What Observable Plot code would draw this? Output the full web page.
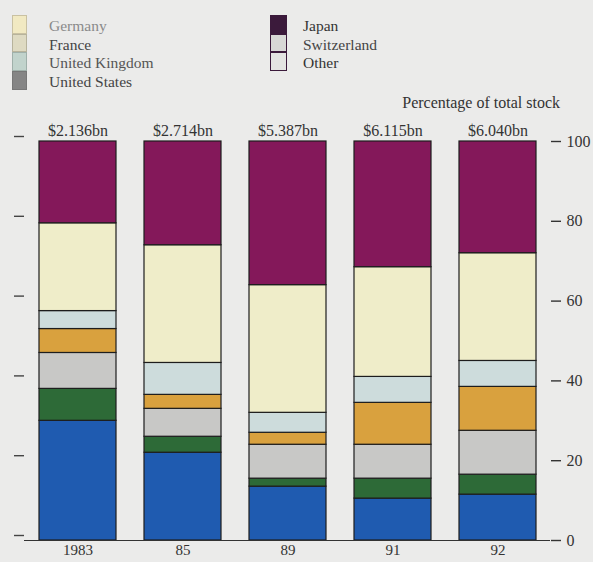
<!DOCTYPE html>
<html>
<head>
<meta charset="utf-8">
<script src="https://cdn.jsdelivr.net/npm/d3@7"></script>
<script src="https://cdn.jsdelivr.net/npm/@observablehq/plot@0.6"></script>
<style>
  html, body { margin: 0; padding: 0; background: #ebebea; }
  #chart { position: relative; width: 593px; height: 562px; overflow: hidden;
           font-family: "Liberation Serif", Tinos, "Times New Roman", Times, "DejaVu Serif", serif; }
  #chart svg { position: absolute; left: 0; top: 0; }
  .legend { position: absolute; font-size: 15.5px; line-height: 19px; }
  .legend .row { position: relative; height: 18.7px; }
  .legend .sw { position: absolute; box-sizing: border-box; }
  .legend .lab { position: absolute; white-space: nowrap; top: 1px; }
  #ylabel { position: absolute; right: 33px; top: 94px; font-size: 16px; color: #333; }
</style>
</head>
<body>
<div id="chart">
  <div class="legend" id="legL" style="left:12px; top:15px;"></div>
  <div class="legend" id="legR" style="left:270px; top:15px;"></div>
  <div id="ylabel">Percentage of total stock</div>
</div>
<script>
// Years and their axis labels
const years = ["1983", "1985", "1989", "1991", "1992"];
const yearLabels = ["1983", "85", "89", "91", "92"];
// Total stock for each year
const totals = ["$2.136bn", "$2.714bn", "$5.387bn", "$6.115bn", "$6.040bn"];

// Share of total stock (%), one array per country, by year
const other       = [30, 22, 13.5, 10.5, 11.5];
const switzerland = [8, 4, 2, 5, 5];
const unitedStates = [9, 7, 8.5, 8.5, 11];
const france      = [6, 3.5, 3, 10.5, 11];
const unitedKingdom = [4.5, 8, 5, 6.5, 6.5];
const germany     = [22, 29.5, 32, 27.5, 27];
const japan       = [20.5, 26, 36, 31.5, 28];

// Stack order, bottom to top
const countries = ["Other", "Switzerland", "United States", "France", "United Kingdom", "Germany", "Japan"];
const series = [other, switzerland, unitedStates, france, unitedKingdom, germany, japan];
const colors = ["#1f5bb0", "#2d6a37", "#c8c8c6", "#d9a13e", "#cddcdc", "#efedc9", "#84185a"];

const yTicks = [0, 20, 40, 60, 80, 100];

const rows = [];
countries.forEach((c, i) => years.forEach((y, j) => rows.push({year: y, country: c, share: series[i][j]})));

const font = "Liberation Serif, Tinos, Times New Roman, Times, DejaVu Serif, serif";

const chart = Plot.plot({
  width: 593,
  height: 562,
  marginTop: 141,
  marginBottom: 22,
  marginLeft: 24,
  marginRight: 43,
  style: {background: "transparent", fontFamily: font, fontSize: "16px", color: "#333"},
  x: {type: "band", domain: years, paddingInner: 0.27, paddingOuter: 0.12, axis: null},
  y: {domain: [0, 100], axis: null},
  color: {type: "ordinal", domain: countries, range: colors},
  marks: [
    Plot.barY(rows, {x: "year", y: "share", fill: "country", order: countries,
                     stroke: "#1d1d1d", strokeWidth: 1.2}),
    Plot.ruleY([0], {stroke: "#333", strokeWidth: 1}),
    Plot.axisY({anchor: "left", ticks: yTicks, tickSize: 10, tickFormat: () => "", label: null,
                stroke: "#444", strokeWidth: 1.4, dy: -5}),
    Plot.axisY({anchor: "right", ticks: yTicks, tickSize: 10, tickPadding: 6, stroke: "#333", strokeWidth: 1.4,
                fontSize: 16, fill: "#333", label: null}),
    Plot.axisX({ticks: years, tickSize: 0, tickPadding: 4, fontSize: 15, fill: "#333",
                tickFormat: (d) => yearLabels[years.indexOf(d)], label: null}),
    Plot.text(years, {x: (d) => d, y: () => 100, text: (d, i) => totals[i], dy: -6,
                      lineAnchor: "bottom", fontSize: 16, fill: "#333"})
  ]
});
document.getElementById("chart").prepend(chart);

// Legend entries
const legendLeft = [
  {name: "Germany", fill: "#f1e9c2", border: "#c9c1a2", text: "#8a8a8a"},
  {name: "France", fill: "#dedac2", border: "#b7b39c", text: "#444"},
  {name: "United Kingdom", fill: "#c1d3cc", border: "#9fb0aa", text: "#555"},
  {name: "United States", fill: "#858585", border: "#777", text: "#444"}
];
const legendRight = [
  {name: "Japan", fill: "#3b1a3b", border: "#3b1a3b", text: "#333"},
  {name: "Switzerland", fill: "#d8d8d6", border: "#3b1a3b", text: "#444"},
  {name: "Other", fill: "#e4e4e2", border: "#3b1a3b", text: "#333"}
];
function drawLegend(id, items, labelOffset, swWidth) {
  const el = document.getElementById(id);
  items.forEach((it) => {
    const row = document.createElement("div");
    row.className = "row";
    const sw = document.createElement("div");
    sw.className = "sw";
    sw.style.background = it.fill;
    sw.style.border = "1.5px solid " + it.border;
    sw.style.width = swWidth + "px";
    sw.style.height = "18.7px";
    const lab = document.createElement("div");
    lab.className = "lab";
    lab.style.left = labelOffset + "px";
    lab.style.color = it.text;
    lab.textContent = it.name;
    row.append(sw, lab);
    el.append(row);
  });
}
drawLegend("legL", legendLeft, 37, 15);
drawLegend("legR", legendRight, 33, 17);
</script>
</body>
</html>
